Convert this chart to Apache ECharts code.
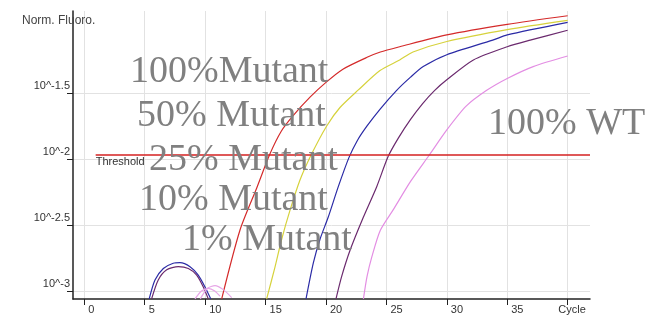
<!DOCTYPE html>
<html>
<head>
<meta charset="utf-8">
<script src="https://cdn.jsdelivr.net/npm/echarts@6/dist/echarts.min.js"></script>
<style>
html, body { margin: 0; padding: 0; background: #fff; }
#chart { width: 656px; height: 318px; }
</style>
</head>
<body>
<div id="chart"></div>
<script>
// amplification curves: [cycle, log10(norm. fluoro)]
var mutant100 = [[11.37,-3.06],[12.88,-2.54],[14.27,-2.22],[15.35,-1.965],[16.3,-1.79],[17.3,-1.67],[18.7,-1.53],[20.0,-1.42],[21.4,-1.32],[23.4,-1.23],[24.5,-1.19],[26.1,-1.15],[30.0,-1.06],[35.0,-0.98],[40.0,-0.915]];
var mutant50 = [[15.09,-3.06],[15.78,-2.82],[16.33,-2.61],[17.02,-2.39],[17.85,-2.16],[18.8,-1.965],[20.06,-1.75],[21.16,-1.61],[22.68,-1.477],[24.47,-1.33],[26.1,-1.25],[27.2,-1.19],[30.0,-1.11],[35.0,-1.02],[40.0,-0.95]];
var mutant25 = [[18.35,-3.06],[18.95,-2.79],[19.5,-2.61],[20.19,-2.44],[21.02,-2.21],[21.9,-1.99],[22.6,-1.86],[23.4,-1.75],[24.5,-1.62],[25.85,-1.48],[27.0,-1.38],[28.05,-1.30],[30.0,-1.21],[33.8,-1.10],[35.0,-1.06],[40.0,-0.965]];
var mutant10 = [[20.83,-3.06],[21.3,-2.89],[22.0,-2.69],[23.1,-2.44],[24.2,-2.21],[25.15,-1.98],[26.0,-1.84],[27.0,-1.70],[28.0,-1.58],[29.0,-1.48],[30.0,-1.40],[32.2,-1.25],[35.0,-1.15],[36.9,-1.10],[40.0,-1.025]];
var mutant1 = [[23.1,-3.06],[23.4,-2.89],[23.8,-2.74],[24.5,-2.54],[25.6,-2.38],[27.0,-2.17],[28.55,-1.97],[30.0,-1.78],[31.6,-1.60],[33.3,-1.48],[35.0,-1.39],[37.15,-1.30],[40.0,-1.22]];
// early noise bumps near the baseline
var bumpBlue = [[5.37,-3.06],[5.85,-2.917],[6.54,-2.83],[7.36,-2.79],[7.92,-2.786],[8.75,-2.816],[9.43,-2.88],[9.99,-2.97],[10.46,-3.06]];
var bumpPurple = [[5.57,-3.06],[6.12,-2.917],[6.82,-2.84],[7.78,-2.816],[8.61,-2.83],[9.3,-2.88],[9.85,-2.97],[10.26,-3.06]];
var bumpPinkA = [[9.16,-3.06],[9.7,-3.0],[10.26,-2.98],[10.8,-3.0],[11.23,-3.04]];
var bumpPinkB = [[9.6,-3.06],[10.2,-2.98],[10.82,-2.96],[11.5,-2.99],[12.2,-3.05]];

var thresholdLevel = -1.965;
var thresholdStart = 0.94;
var thresholdEnd = 41.85;

var xTickValues = [0, 5, 10, 15, 20, 25, 30, 35, 40];
var xLabelValues = [0, 5, 10, 15, 20, 25, 30, 35, 38.9];
var xLabelTexts = ['0', '5', '10', '15', '20', '25', '30', '35', 'Cycle'];
var yTickValues = [-3, -2.5, -2, -1.5];
var yLabelTexts = ['10^-3', '10^-2.5', '10^-2', '10^-1.5'];

var noteTexts = ['100%Mutant', '50% Mutant', '25% Mutant', '10% Mutant', '1% Mutant', '100% WT'];
var notePos = [[130, 72], [137, 116], [149, 160], [139, 200], [182, 240], [488, 124]];

function curve(name, data, color, width) {
	return {
		name: name,
		type: 'line',
		data: data,
		showSymbol: false,
		smooth: 0.25,
		silent: true,
		lineStyle: { color: color, width: width || 1.2 },
		itemStyle: { color: color }
	};
}

var chartObj = echarts.init(document.getElementById('chart'));

var notes = [];
for (var i = 0; i < noteTexts.length; i++) {
	notes.push({
		type: 'text',
		x: notePos[i][0],
		y: notePos[i][1],
		z: 100,
		style: {
			text: noteTexts[i],
			font: '38px "Liberation Serif"',
			fill: '#808080',
			align: 'left',
			verticalAlign: 'middle'
		}
	});
}

var option = {
	animation: false,
	title: {
		text: 'Norm. Fluoro.',
		left: 22,
		top: 15,
		padding: 0,
		textStyle: { fontFamily: 'Liberation Sans', fontSize: 12, fontWeight: 'normal', color: '#444' }
	},
	grid: { left: 73, right: 66, top: 11, bottom: 19, outerBoundsMode: 'none' },
	xAxis: {
		type: 'value',
		min: -0.935,
		max: thresholdEnd,
		axisLine: { show: true, onZero: false, lineStyle: { color: '#222', width: 1.5 } },
		axisTick: { show: true, length: 6, customValues: xTickValues, lineStyle: { color: '#222' } },
		axisLabel: {
			customValues: xLabelValues,
			margin: 5,
			align: 'left',
			padding: [0, 0, 0, 4],
			fontFamily: 'Liberation Sans',
			fontSize: 11,
			color: '#333',
			formatter: function (v) { return xLabelTexts[xLabelValues.indexOf(v)]; }
		},
		splitLine: { show: true, lineStyle: { color: '#e2e2e2', width: 1 } }
	},
	yAxis: {
		type: 'value',
		min: -3.061,
		max: -0.879,
		axisLine: { show: true, onZero: false, lineStyle: { color: '#222', width: 1.5 } },
		axisTick: { show: true, length: 6, customValues: yTickValues, lineStyle: { color: '#222' } },
		axisLabel: {
			customValues: yTickValues,
			margin: 3,
			verticalAlign: 'bottom',
			padding: [0, 0, 1, 0],
			fontFamily: 'Liberation Sans',
			fontSize: 11,
			color: '#333',
			formatter: function (v) { return yLabelTexts[yTickValues.indexOf(v)]; }
		},
		splitLine: { show: true, lineStyle: { color: '#e2e2e2', width: 1 } }
	},
	graphic: notes,
	series: [
		curve('100% Mutant', mutant100, '#d42a2a'),
		curve('50% Mutant', mutant50, '#d6d23c'),
		curve('25% Mutant', mutant25, '#2b2ba6'),
		curve('10% Mutant', mutant10, '#6b2a6e'),
		curve('1% Mutant', mutant1, '#e38ee3'),
		curve('bump 1', bumpBlue, '#2b2ba6'),
		curve('bump 2', bumpPurple, '#6b2a6e'),
		curve('bump 3', bumpPinkA, '#e7a6e7'),
		curve('bump 4', bumpPinkB, '#e7a6e7'),
		{
			name: 'Threshold',
			type: 'line',
			data: [],
			silent: true,
			markLine: {
				silent: true,
				symbol: ['none', 'none'],
				lineStyle: { color: '#d42020', width: 1.5, type: 'solid' },
				label: {
					show: true,
					position: 'insideStartBottom',
					formatter: 'Threshold',
					distance: [0, 2],
					fontFamily: 'Liberation Sans',
					fontSize: 11,
					color: '#333'
				},
				data: [[{ coord: [thresholdStart, thresholdLevel] }, { coord: [thresholdEnd, thresholdLevel] }]]
			}
		}
	]
};

chartObj.setOption(option);
</script>
</body>
</html>
